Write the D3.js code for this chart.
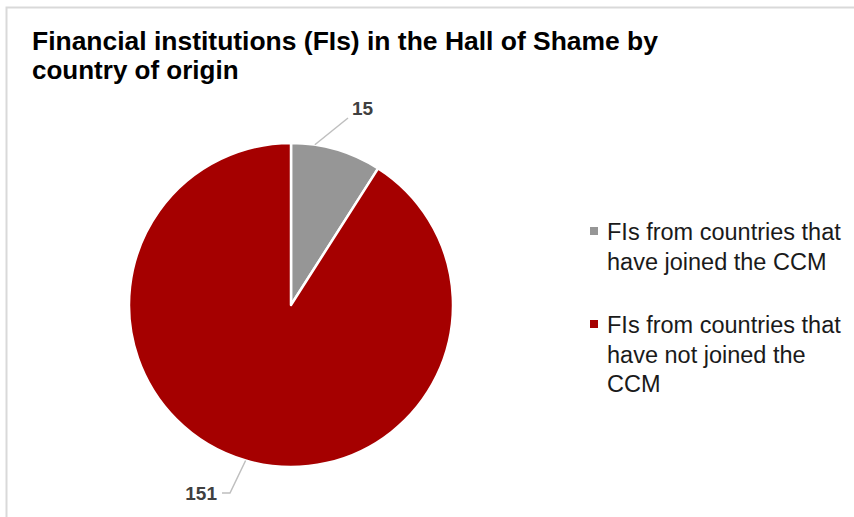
<!DOCTYPE html>
<html>
<head>
<meta charset="utf-8">
<script src="https://cdn.jsdelivr.net/npm/d3@7"></script>
<style>
    body { margin: 0; background: #ffffff; }
    svg { display: block; font-family: "Liberation Sans", Arial, sans-serif; }
</style>
</head>
<body>
<div id="chart"></div>
<script>

// data
var categories = [ 'FIs from countries that have joined the CCM', 'FIs from countries that have not joined the CCM' ];
var values = [ 15, 151 ];
var legendLines = [
    [ 'FIs from countries that', 'have joined the CCM' ],
    [ 'FIs from countries that', 'have not joined the', 'CCM' ]
];
var colors = [ '#969696', '#a50000' ];

var width = 854,
    height = 517,
    cx = 291,
    cy = 305,
    radius = 162;

var svg = d3.select('#chart').append('svg')
    .attr('width', width)
    .attr('height', height);

// frame
svg.append('rect')
    .attr('x', 6.5)
    .attr('y', 7.5)
    .attr('width', width + 10)
    .attr('height', height + 10)
    .style('fill', '#ffffff')
    .style('stroke', '#d9d9d9')
    .style('stroke-width', 2);

// title
var title = svg.append('text')
    .style('font-size', '26px')
    .style('font-weight', 'bold')
    .style('fill', '#000000');

title.append('tspan').attr('x', 32).attr('y', 50)
    .attr('textLength', 626).attr('lengthAdjust', 'spacingAndGlyphs')
    .text('Financial institutions (FIs) in the Hall of Shame by');
title.append('tspan').attr('x', 32).attr('y', 79)
    .text('country of origin');

// pie
var pie = d3.pie()
    .sort(null)
    .value( function ( d ) { return d } );

var arc = d3.arc()
    .outerRadius( radius )
    .innerRadius( 0 );

var g = svg.append('g')
    .attr('transform', 'translate(' + cx + ',' + cy + ')');

var arcs = pie( values );

g.selectAll('.arc')
    .data( arcs )
    .enter().append('path')
    .attr('class', 'arc')
    .attr('d', arc)
    .style('fill', function ( d, i ) { return colors[ i ] })
    .style('stroke', '#ffffff')
    .style('stroke-width', 2.5)
    .style('stroke-linejoin', 'round');

// data labels with leader lines
var labelOffsets = [
    { p0: 0.26, tx: 61, ty: -197, anchor: 'start', elbow: null },
    { p0: 0.9, tx: -74, ty: 188, anchor: 'end', elbow: -61 }
];

arcs.forEach( function ( d, i ) {

    var mid = ( d.startAngle + d.endAngle ) / 2;
    var o = labelOffsets[ i ];
    var a = i === 0 ? d.startAngle + ( d.endAngle - d.startAngle ) * o.p0 : mid;

    var x0 = Math.sin( a ) * radius,
        y0 = -Math.cos( a ) * radius;

    var pts;
    if ( o.elbow === null ) {
        pts = [ [ x0, y0 ], [ o.tx - 4, o.ty + 10 ] ];
    } else {
        pts = [ [ x0, y0 ], [ o.elbow, o.ty ], [ o.tx + 5, o.ty ] ];
    }

    g.append('path')
        .attr('d', d3.line()( pts ))
        .style('fill', 'none')
        .style('stroke', '#bfbfbf')
        .style('stroke-width', 1.5);

    g.append('text')
        .attr('x', o.tx)
        .attr('y', o.ty)
        .attr('dy', '0.35em')
        .attr('text-anchor', o.anchor)
        .style('font-size', '19px')
        .style('font-weight', 'bold')
        .style('fill', '#404040')
        .text( values[ i ] );

});

// legend
var legendY = [ 231, 324 ];

var legend = svg.selectAll('.legend')
    .data( categories )
    .enter().append('g')
    .attr('class', 'legend')
    .attr('transform', function ( d, i ) { return 'translate(590,' + legendY[ i ] + ')' });

legend.append('rect')
    .attr('x', 0)
    .attr('y', -4)
    .attr('width', 8)
    .attr('height', 8)
    .style('fill', function ( d, i ) { return colors[ i ] });

legend.each( function ( d, i ) {

    var t = d3.select( this ).append('text')
        .style('font-size', '23.5px')
        .style('fill', '#1a1a1a');

    legendLines[ i ].forEach( function ( line, j ) {
        t.append('tspan')
            .attr('x', 17)
            .attr('y', 9 + j * 29.5)
            .text( line );
    });

});

</script>
</body>
</html>
